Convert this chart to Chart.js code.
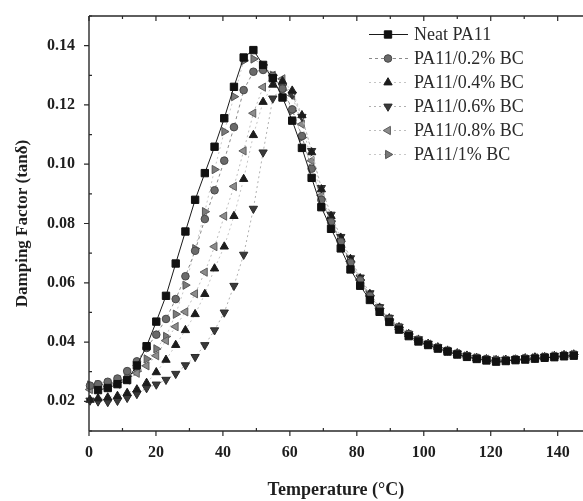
<!DOCTYPE html>
<html>
<head>
<meta charset="utf-8">
<script src="https://cdn.jsdelivr.net/npm/chart.js@4/dist/chart.umd.min.js"></script>
<style>
	html, body { margin: 0; padding: 0; background: #fff; overflow: hidden; }
	#wrap { width: 583px; height: 501px; overflow: hidden; }
</style>
</head>
<body>
<div id="wrap"><canvas id="myChart" width="589" height="501"></canvas></div>
<script>
// temperature (deg C)
const temperature = [0.3, 2.7, 5.6, 8.5, 11.4, 14.3, 17.2, 20.1, 23.0, 25.9, 28.8, 31.7, 34.6, 37.5, 40.4, 43.3, 46.2, 49.1, 52.0, 54.9,
	57.8, 60.7, 63.6, 66.5, 69.4, 72.3, 75.2, 78.1, 81.0, 83.9, 86.8, 89.7, 92.6, 95.5, 98.4, 101.3, 104.2, 107.1, 110.0, 112.9,
	115.8, 118.7, 121.6, 124.5, 127.4, 130.3, 133.2, 136.1, 139.0, 141.9, 144.8];

const neatPA11 = [null, 0.0238, 0.0245, 0.0258, 0.0272, 0.0321, 0.0386, 0.0469, 0.0556, 0.0665, 0.0773, 0.0880, 0.0970, 0.1059, 0.1155, 0.1261, 0.1360, 0.1385, 0.1335, 0.1290,
	0.1225, 0.1147, 0.1055, 0.0954, 0.0855, 0.0782, 0.0716, 0.0645, 0.0590, 0.0542, 0.0502, 0.0468, 0.0442, 0.0420, 0.0402, 0.0390, 0.0378, 0.0368, 0.0358, 0.0350,
	0.0343, 0.0338, 0.0334, 0.0336, 0.0339, 0.0341, 0.0344, 0.0347, 0.0349, 0.0352, 0.0354];
const bc02 = [0.0253, 0.0258, 0.0266, 0.0277, 0.0302, 0.0335, 0.0380, 0.0425, 0.0478, 0.0545, 0.0622, 0.0708, 0.0815, 0.0912, 0.1012, 0.1125, 0.1250, 0.1312, 0.1318, 0.1298,
	0.1255, 0.1185, 0.1095, 0.0985, 0.0880, 0.0805, 0.0738, 0.0668, 0.0608, 0.0556, 0.0512, 0.0476, 0.0448, 0.0426, 0.0407, 0.0393, 0.0381, 0.0370, 0.0361, 0.0353,
	0.0347, 0.0341, 0.0338, 0.0339, 0.0342, 0.0344, 0.0346, 0.0350, 0.0352, 0.0354, 0.0357];
const bc04 = [0.0205, 0.0210, 0.0213, 0.0218, 0.0228, 0.0240, 0.0262, 0.0298, 0.0340, 0.0390, 0.0440, 0.0494, 0.0562, 0.0648, 0.0722, 0.0825, 0.0950, 0.1098, 0.1210, 0.1268,
	0.1280, 0.1248, 0.1165, 0.1040, 0.0915, 0.0825, 0.0752, 0.0680, 0.0615, 0.0562, 0.0516, 0.0480, 0.0450, 0.0427, 0.0408, 0.0394, 0.0382, 0.0371, 0.0362, 0.0354,
	0.0346, 0.0342, 0.0339, 0.0340, 0.0341, 0.0345, 0.0348, 0.0349, 0.0353, 0.0356, 0.0358];
const bc06 = [0.0203, 0.0200, 0.0198, 0.0202, 0.0212, 0.0225, 0.0245, 0.0257, 0.0273, 0.0293, 0.0322, 0.0350, 0.0390, 0.0440, 0.0500, 0.0590, 0.0695, 0.0850, 0.1040, 0.1222,
	0.1262, 0.1235, 0.1160, 0.1045, 0.0920, 0.0830, 0.0755, 0.0683, 0.0618, 0.0565, 0.0518, 0.0482, 0.0452, 0.0428, 0.0410, 0.0395, 0.0383, 0.0372, 0.0362, 0.0355,
	0.0348, 0.0343, 0.0340, 0.0341, 0.0343, 0.0346, 0.0348, 0.0351, 0.0354, 0.0356, 0.0359];
const bc08 = [0.0240, 0.0245, 0.0250, 0.0258, 0.0272, 0.0295, 0.0320, 0.0354, 0.0405, 0.0452, 0.0502, 0.0563, 0.0636, 0.0722, 0.0825, 0.0925, 0.1045, 0.1172, 0.1260, 0.1300,
	0.1288, 0.1232, 0.1135, 0.1012, 0.0895, 0.0812, 0.0742, 0.0672, 0.0610, 0.0558, 0.0514, 0.0478, 0.0449, 0.0426, 0.0406, 0.0393, 0.0380, 0.0370, 0.0361, 0.0352,
	0.0346, 0.0342, 0.0339, 0.0338, 0.0341, 0.0343, 0.0347, 0.0349, 0.0352, 0.0355, 0.0357];
const bc10 = [0.0255, 0.0256, 0.0262, 0.0272, 0.0285, 0.0302, 0.0343, 0.0377, 0.0419, 0.0494, 0.0592, 0.0715, 0.0840, 0.0982, 0.1110, 0.1228, 0.1349, 0.1355, 0.1335, 0.1300,
	0.1250, 0.1180, 0.1090, 0.0985, 0.0882, 0.0808, 0.0740, 0.0670, 0.0610, 0.0557, 0.0513, 0.0477, 0.0449, 0.0427, 0.0407, 0.0392, 0.0381, 0.0370, 0.0360, 0.0353,
	0.0347, 0.0342, 0.0340, 0.0340, 0.0342, 0.0345, 0.0347, 0.0350, 0.0353, 0.0355, 0.0358];

const seriesNames = ['Neat PA11', 'PA11/0.2% BC', 'PA11/0.4% BC', 'PA11/0.6% BC', 'PA11/0.8% BC', 'PA11/1% BC'];
const xTicks = [0, 20, 40, 60, 80, 100, 120, 140];
const xMinor = [10, 30, 50, 70, 90, 110, 130];
const yTicks = [0.02, 0.04, 0.06, 0.08, 0.10, 0.12, 0.14];
const yMinor = [0.01, 0.03, 0.05, 0.07, 0.09, 0.11, 0.13, 0.15];

const serif = '"Liberation Serif", "DejaVu Serif", serif';

function pts(values) {
	return temperature.map(function (t, i) { return { x: t, y: values[i] }; });
}

document.addEventListener('DOMContentLoaded', function () {
	const ctx = document.getElementById('myChart').getContext('2d');

	// axis frame with small ticks (major outside, minor inside, like the figure)
	const frame = {
		id: 'frame',
		afterDraw(chart) {
			const c = chart.ctx;
			const xs = chart.scales.x, ys = chart.scales.y;
			const a = chart.chartArea;
			c.save();
			c.strokeStyle = '#2a2a2a';
			c.lineWidth = 1.4;
			c.beginPath();
			c.moveTo(a.left, a.top); c.lineTo(a.left, a.bottom);
			c.moveTo(a.left, a.bottom); c.lineTo(a.right + 2, a.bottom);
			c.moveTo(a.left, a.top); c.lineTo(a.right + 2, a.top);
			c.stroke();
			c.lineWidth = 1.2;
			c.beginPath();
			yTicks.forEach(function (v) {
				const p = ys.getPixelForValue(v);
				c.moveTo(a.left - 5, p); c.lineTo(a.left, p);
			});
			yMinor.forEach(function (v) {
				const p = ys.getPixelForValue(v);
				c.moveTo(a.left, p); c.lineTo(a.left + 3, p);
			});
			xTicks.forEach(function (v) {
				const p = xs.getPixelForValue(v);
				c.moveTo(p, a.bottom); c.lineTo(p, a.bottom + 5);
				c.moveTo(p, a.top); c.lineTo(p, a.top + 5);
			});
			xMinor.forEach(function (v) {
				const p = xs.getPixelForValue(v);
				c.moveTo(p, a.bottom); c.lineTo(p, a.bottom - 3);
				c.moveTo(p, a.top); c.lineTo(p, a.top + 3);
			});
			c.stroke();
			c.restore();
		}
	};

	// legend box at top right inside the plot
	const legendBox = {
		id: 'legendBox',
		afterDraw(chart) {
			const c = chart.ctx;
			c.save();
			chart.data.datasets.forEach(function (ds, i) {
				const y = 34.5 + i * 24;
				c.strokeStyle = ds.borderColor;
				c.lineWidth = ds.borderWidth;
				c.setLineDash(ds.borderDash || []);
				c.beginPath();
				c.moveTo(369, y); c.lineTo(408, y);
				c.stroke();
				c.setLineDash([]);
				c.fillStyle = ds.pointBackgroundColor;
				c.strokeStyle = ds.pointBorderColor;
				c.lineWidth = 1;
				Chart.helpers.drawPoint(c, {
					pointStyle: ds.pointStyle,
					radius: ds.pointRadius,
					rotation: ds.pointRotation || 0,
					borderWidth: 1
				}, 388, y);
				c.fillStyle = '#2b2b2b';
				c.font = '18px ' + serif;
				c.textAlign = 'left';
				c.textBaseline = 'middle';
				c.fillText(ds.label, 414, y + 1);
			});
			c.restore();
		}
	};

	new Chart(ctx, {
		type: 'line',
		data: {
			datasets: [
				{
					label: seriesNames[0],
					data: pts(neatPA11),
					borderColor: '#1a1a1a',
					borderWidth: 1,
					pointStyle: 'rect',
					pointRadius: 5.2,
					pointBackgroundColor: '#111',
					pointBorderColor: '#111',
				},
				{
					label: seriesNames[1],
					data: pts(bc02),
					borderColor: '#8a8a8a',
					borderWidth: 1,
					borderDash: [3, 3],
					pointStyle: 'circle',
					pointRadius: 3.8,
					pointBackgroundColor: '#6a6a6a',
					pointBorderColor: '#474747',
				},
				{
					label: seriesNames[2],
					data: pts(bc04),
					borderColor: '#c4c4c4',
					borderWidth: 1,
					borderDash: [2, 3],
					pointStyle: 'triangle',
					pointRadius: 4.8,
					pointBackgroundColor: '#1c1c1c',
					pointBorderColor: '#1c1c1c',
				},
				{
					label: seriesNames[3],
					data: pts(bc06),
					borderColor: '#b0b0b0',
					borderWidth: 1,
					borderDash: [2, 3],
					pointStyle: 'triangle',
					pointRotation: 180,
					pointRadius: 4.8,
					pointBackgroundColor: '#3a3a3a',
					pointBorderColor: '#2a2a2a',
				},
				{
					label: seriesNames[4],
					data: pts(bc08),
					borderColor: '#bdbdbd',
					borderWidth: 1,
					borderDash: [2, 3],
					pointStyle: 'triangle',
					pointRotation: 270,
					pointRadius: 4.8,
					pointBackgroundColor: '#8c8c8c',
					pointBorderColor: '#5e5e5e',
				},
				{
					label: seriesNames[5],
					data: pts(bc10),
					borderColor: '#c8c8c8',
					borderWidth: 1,
					borderDash: [2, 3],
					pointStyle: 'triangle',
					pointRotation: 90,
					pointRadius: 4.8,
					pointBackgroundColor: '#7a7a7a',
					pointBorderColor: '#555',
				},
			],
		},
		options: {
			responsive: false,
			animation: false,
			clip: false,
			layout: {
				padding: { top: 16, right: 0, left: 0, bottom: 0 }
			},
			elements: {
				line: { tension: 0 },
				point: { borderWidth: 1 }
			},
			plugins: {
				legend: { display: false },
				tooltip: { enabled: false }
			},
			scales: {
				x: {
					type: 'linear',
					min: 0,
					max: 147.5,
					afterBuildTicks: function (scale) {
						scale.ticks = xTicks.map(function (v) { return { value: v }; });
					},
					afterFit: function (scale) {
						scale.height = 70;
						scale.paddingLeft = 0;
						scale.paddingRight = 0;
					},
					grid: { display: false, drawTicks: false },
					border: { display: false },
					ticks: {
						color: '#1e1e1e',
						padding: 12,
						maxRotation: 0,
						font: { family: serif, size: 16, weight: 'bold' },
						callback: function (v) { return v; }
					},
					title: {
						display: true,
						text: 'Temperature (\u00B0C)',
						color: '#1e1e1e',
						font: { family: serif, size: 18, weight: 'bold' },
						padding: { top: 0, bottom: 0 }
					}
				},
				y: {
					min: 0.01,
					max: 0.15,
					afterBuildTicks: function (scale) {
						scale.ticks = yTicks.map(function (v) { return { value: v }; });
					},
					afterFit: function (scale) {
						scale.width = 89;
						scale.paddingTop = 0;
						scale.paddingBottom = 0;
					},
					grid: { display: false, drawTicks: false },
					border: { display: false },
					ticks: {
						color: '#1e1e1e',
						padding: 14,
						font: { family: serif, size: 16, weight: 'bold' },
						callback: function (v) { return v.toFixed(2); }
					},
					title: {
						display: true,
						text: 'Damping Factor (tan\u03B4)',
						color: '#1e1e1e',
						font: { family: serif, size: 17, weight: 'bold' },
						padding: { top: 12, bottom: 0 }
					}
				}
			}
		},
		plugins: [frame, legendBox]
	});
});
</script>
</body>
</html>
